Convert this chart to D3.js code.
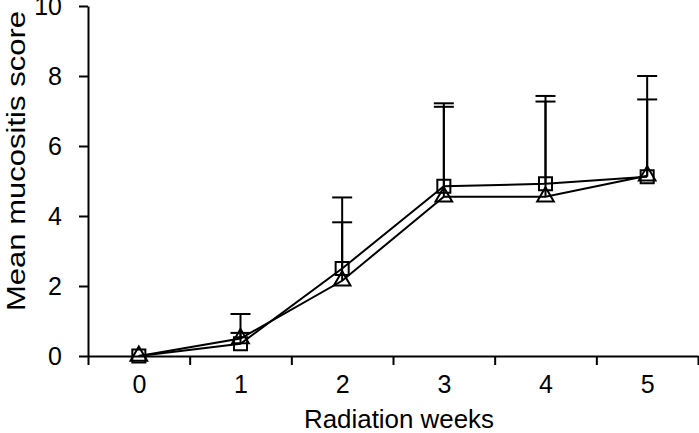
<!DOCTYPE html>
<html><head><meta charset="utf-8">
<script src="https://cdn.jsdelivr.net/npm/d3@7"></script>
<style>body{margin:0;background:#fff}svg{display:block}</style>
</head><body>
<script>
const weeks = [0, 1, 2, 3, 4, 5];
const squareMean = [0, 0.35, 2.5, 4.85, 4.92, 5.12];
const squareUpper = [0, 1.2, 4.53, 7.22, 7.43, 8.0];
const triangleMean = [0, 0.5, 2.15, 4.55, 4.55, 5.15];
const triangleUpper = [0, 0.66, 3.82, 7.12, 7.27, 7.33];
const yTicks = [0, 2, 4, 6, 8, 10];

const W = 699, H = 433;
const svg = d3.select("body").append("svg").attr("width", W).attr("height", H);
const font = "'Liberation Sans', Arial, sans-serif";
const fs = 25;

const x = d3.scaleLinear().domain([-0.5, 5.5]).range([88, 698]);
const y = d3.scaleLinear().domain([0, 10]).range([356, 6]);

// y axis
const yAx = svg.append("g").attr("transform", "translate(88,0)")
  .call(d3.axisLeft(y).tickValues(yTicks).tickSize(9).tickPadding(17).tickSizeOuter(0).tickFormat(d3.format("d")));
yAx.select(".domain").attr("stroke", "#000").attr("stroke-width", 2);
yAx.selectAll(".tick line").attr("stroke", "#000").attr("stroke-width", 2);
yAx.selectAll(".tick text").attr("font-family", font).attr("font-size", fs).attr("fill", "#000");

// x axis
const edges = d3.range(-0.5, 6, 1);
const xAx = svg.append("g").attr("transform", "translate(0,356)")
  .call(d3.axisBottom(x).tickValues(edges).tickSize(9).tickFormat("").tickSizeOuter(0));
xAx.select(".domain").attr("stroke", "#000").attr("stroke-width", 2);
xAx.selectAll(".tick line").attr("stroke", "#000").attr("stroke-width", 2);
const xLab = svg.append("g").attr("transform", "translate(0,356)")
  .call(d3.axisBottom(x).tickValues(weeks).tickSize(0).tickPadding(19).tickFormat(d3.format("d")));
xLab.select(".domain").remove();
xLab.selectAll(".tick text").attr("font-family", font).attr("font-size", fs).attr("fill", "#000");

// axis titles
svg.append("text").attr("x", 399).attr("y", 428).attr("text-anchor", "middle")
  .attr("font-family", font).attr("font-size", fs)
  .attr("textLength", 190).attr("lengthAdjust", "spacingAndGlyphs").text("Radiation weeks");
svg.append("text").attr("transform", "translate(25,161) rotate(-90)").attr("text-anchor", "middle")
  .attr("font-family", font).attr("font-size", fs)
  .attr("textLength", 300).attr("lengthAdjust", "spacingAndGlyphs").text("Mean mucositis score");

const plot = svg.append("g");
function errorBars(means, uppers) {
  weeks.forEach((w, i) => {
    if (uppers[i] <= means[i]) return;
    plot.append("line").attr("x1", x(w)).attr("x2", x(w)).attr("y1", y(means[i])).attr("y2", y(uppers[i]))
      .attr("stroke", "#000").attr("stroke-width", 2);
    plot.append("line").attr("x1", x(w) - 10).attr("x2", x(w) + 10).attr("y1", y(uppers[i])).attr("y2", y(uppers[i]))
      .attr("stroke", "#000").attr("stroke-width", 2);
  });
}
errorBars(squareMean, squareUpper);
errorBars(triangleMean, triangleUpper);

const line = d3.line().x((d, i) => x(weeks[i])).y(d => y(d));
plot.append("path").datum(squareMean).attr("d", line).attr("fill", "none").attr("stroke", "#000").attr("stroke-width", 2);
plot.append("path").datum(triangleMean).attr("d", line).attr("fill", "none").attr("stroke", "#000").attr("stroke-width", 2);

const sq = d3.symbol().type(d3.symbolSquare).size(170);
const tri = d3.symbol().type(d3.symbolTriangle).size(120);
plot.selectAll(".sq").data(squareMean).enter().append("path")
  .attr("d", sq).attr("transform", (d, i) => `translate(${x(weeks[i])},${y(d)})`)
  .attr("fill", "none").attr("stroke", "#000").attr("stroke-width", 2);
plot.selectAll(".tri").data(triangleMean).enter().append("path")
  .attr("d", tri).attr("transform", (d, i) => `translate(${x(weeks[i])},${y(d)})`)
  .attr("fill", "none").attr("stroke", "#000").attr("stroke-width", 2);
</script>
</body></html>
